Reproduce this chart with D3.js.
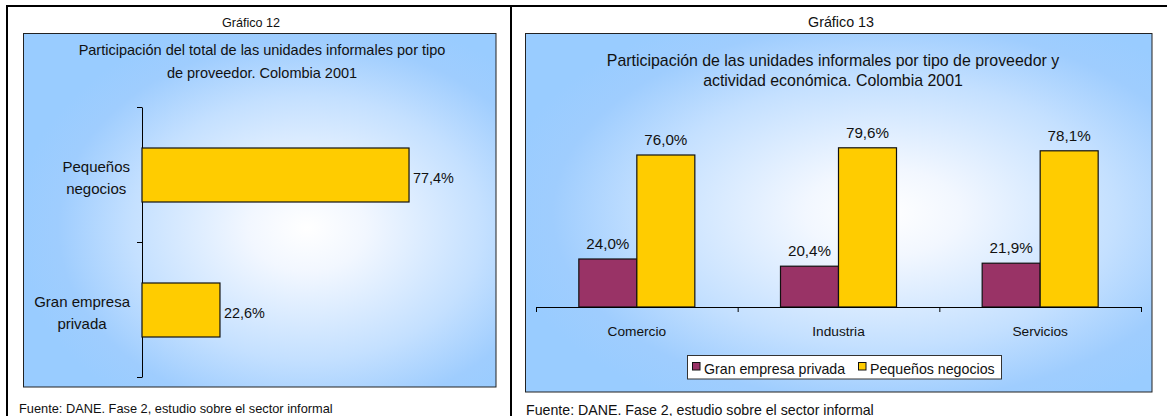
<!DOCTYPE html>
<html>
<head>
<meta charset="utf-8">
<script src="https://cdn.jsdelivr.net/npm/d3@7"></script>
<style>
  body { margin: 0; background: #fff; }
  text { font-family: "Liberation Sans", Arial, sans-serif; fill: #111; }
</style>
</head>
<body>
<div class="canvas"></div>
<script>
// gráfico 12
const cats12 = ["Pequeños negocios", "Gran empresa privada"];
const catLines12 = [["Pequeños", "negocios"], ["Gran empresa", "privada"]];
const vals12 = [77.4, 22.6];

// gráfico 13
const cats13 = ["Comercio", "Industria", "Servicios"];
const series13 = ["Gran empresa privada", "Pequeños negocios"];
const granEmpresa = [24.0, 20.4, 21.9];
const pequenos = [76.0, 79.6, 78.1];

const fuente = "Fuente: DANE. Fase 2, estudio sobre el sector informal";
const W = 1167, H = 416;
const YELLOW = "#ffcc00", MAROON = "#993366";

const fmt = v => d3.format(".1f")(v).replace(".", ",") + "%";

const svg = d3.select(".canvas").append("svg")
  .attr("width", W).attr("height", H);

const defs = svg.append("defs");
function grad(id, cx, cy) {
  const g = defs.append("radialGradient").attr("id", id)
    .attr("cx", cx).attr("cy", cy).attr("r", 0.62);
  g.append("stop").attr("offset", 0).attr("stop-color", "#ffffff");
  g.append("stop").attr("offset", 0.2).attr("stop-color", "#f2f7ff");
  g.append("stop").attr("offset", 0.6).attr("stop-color", "#c4e0ff");
  g.append("stop").attr("offset", 0.85).attr("stop-color", "#9fcdfe");
  g.append("stop").attr("offset", 1).attr("stop-color", "#99ccff");
}
grad("bg12", 0.6, 0.55);
grad("bg13", 0.57, 0.5);

// outer frame
svg.append("line").attr("x1", 6).attr("x2", W).attr("y1", 6).attr("y2", 6)
  .attr("stroke", "#000").attr("stroke-width", 2);
svg.append("line").attr("x1", 7).attr("x2", 7).attr("y1", 5).attr("y2", H)
  .attr("stroke", "#000").attr("stroke-width", 2);
svg.append("line").attr("x1", 511).attr("x2", 511).attr("y1", 5).attr("y2", H)
  .attr("stroke", "#000").attr("stroke-width", 2);

// ---------- Gráfico 12 ----------
svg.append("rect").attr("x", 23.5).attr("y", 33.5).attr("width", 472.5).attr("height", 353.5)
  .attr("fill", "url(#bg12)").attr("stroke", "#222").attr("stroke-width", 1);

svg.append("text").attr("x", 251).attr("y", 26.5).attr("text-anchor", "middle")
  .style("font-size", "12.6px").text("Gráfico 12");
const t12 = ["Participación del total de las unidades informales por tipo", "de proveedor. Colombia 2001"];
svg.selectAll(".t12").data(t12).enter().append("text")
  .attr("x", 262).attr("y", (d, i) => 55 + i * 22.5).attr("text-anchor", "middle")
  .style("font-size", "14.5px").text(d => d);

const yBand12 = d3.scaleBand().domain(cats12).range([107, 377]);
const yTick12 = d3.scaleLinear().domain([0, 2]).range([107, 377]);
const x12 = d3.scaleLinear().domain([0, 100]).range([142, 487]);

svg.append("g").attr("transform", "translate(142,0)")
  .call(d3.axisLeft(yTick12).tickValues([0, 1, 2]).tickFormat("").tickSizeInner(5).tickSizeOuter(0))
  .call(g => g.selectAll("line, path").attr("stroke", "#000"));

const barH = yBand12.bandwidth() * 0.4;
svg.selectAll(".bar12").data(vals12).enter().append("rect")
  .attr("x", x12(0))
  .attr("y", (d, i) => yBand12(cats12[i]) + yBand12.bandwidth() / 2 - barH / 2 + 0.5)
  .attr("width", d => x12(d) - x12(0))
  .attr("height", barH)
  .attr("fill", YELLOW).attr("stroke", "#111").attr("stroke-width", 1.2);

svg.selectAll(".val12").data(vals12).enter().append("text")
  .attr("x", d => x12(d) + 4)
  .attr("y", (d, i) => yBand12(cats12[i]) + yBand12.bandwidth() / 2 + 8.5)
  .style("font-size", "14.4px").text(d => fmt(d));

catLines12.forEach((lines, i) => {
  const g = svg.append("g");
  const ts = g.selectAll("text").data(lines).enter().append("text")
    .attr("y", (d, j) => yBand12(cats12[i]) + yBand12.bandwidth() / 2 - 3 + j * 22)
    .attr("text-anchor", "middle")
    .style("font-size", "15px").text(d => d);
  let maxW = 0;
  ts.each(function () { maxW = Math.max(maxW, this.getComputedTextLength()); });
  ts.attr("x", 130 - maxW / 2);
});

svg.append("text").attr("x", 19).attr("y", 412.5)
  .style("font-size", "12.8px").text(fuente);

// ---------- Gráfico 13 ----------
svg.append("rect").attr("x", 525.5).attr("y", 33.5).attr("width", 626.5).attr("height", 358.5)
  .attr("fill", "url(#bg13)").attr("stroke", "#222").attr("stroke-width", 1);

svg.append("text").attr("x", 841).attr("y", 26.5).attr("text-anchor", "middle")
  .style("font-size", "14.3px").text("Gráfico 13");
const t13 = ["Participación de las unidades informales por tipo de proveedor y", "actividad económica. Colombia 2001"];
svg.selectAll(".t13").data(t13).enter().append("text")
  .attr("x", 833).attr("y", (d, i) => 66 + i * 19.5).attr("text-anchor", "middle")
  .style("font-size", "15.9px").text(d => d);

const x13 = d3.scaleBand().domain(cats13).range([536, 1141]);
const xTick13 = d3.scaleLinear().domain([0, 3]).range([536, 1141]);
const xSeries = d3.scaleBand().domain(series13).range([0, 116]);
const y13 = d3.scaleLinear().domain([0, 100]).range([307, 107]);

const rows = cats13.map((c, i) => ({ cat: c, vals: [granEmpresa[i], pequenos[i]] }));
const colors = d3.scaleOrdinal().domain(series13).range([MAROON, YELLOW]);

const groups = svg.selectAll(".grp").data(rows).enter().append("g")
  .attr("transform", d => `translate(${x13(d.cat) + x13.bandwidth() / 2 - 58},0)`);
groups.selectAll("rect").data(d => d.vals.map((v, k) => ({ s: series13[k], v })))
  .enter().append("rect")
  .attr("x", d => xSeries(d.s))
  .attr("y", d => y13(d.v))
  .attr("width", xSeries.bandwidth())
  .attr("height", d => y13(0) - y13(d.v))
  .attr("fill", d => colors(d.s)).attr("stroke", "#111").attr("stroke-width", 1.2);
groups.selectAll("text").data(d => d.vals.map((v, k) => ({ s: series13[k], v })))
  .enter().append("text")
  .attr("x", d => xSeries(d.s) + xSeries.bandwidth() / 2)
  .attr("y", d => y13(d.v) - 10)
  .attr("text-anchor", "middle")
  .style("font-size", "15.2px").text(d => fmt(d.v));

svg.append("g").attr("transform", "translate(0,307)")
  .call(d3.axisBottom(xTick13).tickValues([0, 1, 2, 3]).tickFormat("").tickSizeInner(5).tickSizeOuter(0))
  .call(g => g.selectAll("line, path").attr("stroke", "#000"));

svg.append("g").attr("transform", "translate(0,307)")
  .call(d3.axisBottom(x13).tickSize(0).tickPadding(0))
  .call(g => g.select(".domain").remove())
  .call(g => g.selectAll("text").attr("dy", 0).attr("y", 29)
    .style("font-size", "13.7px").style("font-family", null).attr("fill", "#111"));

// legend
const leg = svg.append("g");
leg.append("rect").attr("x", 687.5).attr("y", 355.5).attr("width", 314).attr("height", 23.5)
  .attr("fill", "#fff").attr("stroke", "#333").attr("stroke-width", 1);
const legX = [692, 858];
series13.forEach((s, i) => {
  leg.append("rect").attr("x", legX[i] + 0.5).attr("y", 362.5).attr("width", 7.5).attr("height", 7.5)
    .attr("fill", colors(s)).attr("stroke", "#111").attr("stroke-width", 1);
  leg.append("text").attr("x", legX[i] + 12).attr("y", 374)
    .style("font-size", "14.2px").text(s);
});

svg.append("text").attr("x", 526).attr("y", 414.5)
  .style("font-size", "14.2px").text(fuente);
</script>
</body>
</html>
